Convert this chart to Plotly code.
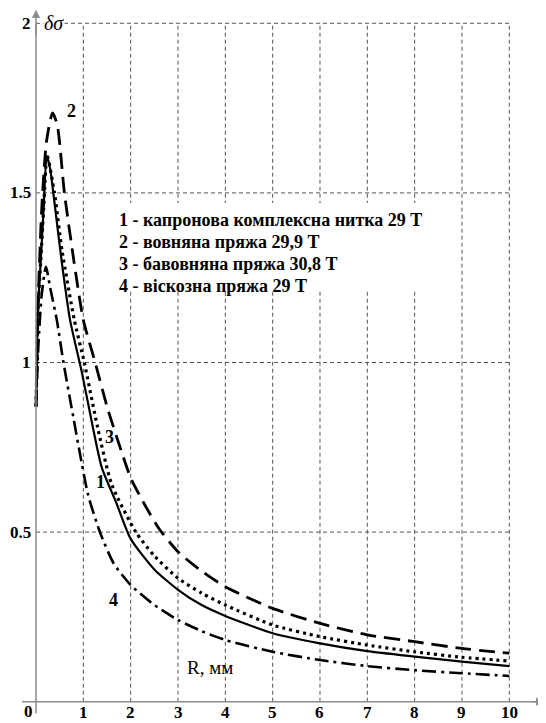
import plotly.graph_objects as go

# ---------------- data ----------------
R1 = [0.0, 0.02, 0.03, 0.1, 0.16, 0.226, 0.3, 0.4, 0.55, 0.72, 0.97, 1.2, 1.39, 1.7, 2.0, 2.5, 3, 3.5, 4, 5, 6, 7, 8, 9, 10]
D1 = [0.87, 1.0, 1.125, 1.30, 1.45, 1.61, 1.57, 1.46, 1.29, 1.125, 0.97, 0.81, 0.69, 0.585, 0.48, 0.39, 0.33, 0.285, 0.253, 0.202, 0.172, 0.149, 0.133, 0.118, 0.105]

R2 = [0.0, 0.02, 0.05, 0.12, 0.22, 0.35, 0.45, 0.6, 0.8, 1.0, 1.25, 1.5, 1.8, 2.0, 2.3, 2.6, 3, 3.5, 4, 5, 6, 7, 8, 9, 10]
D2 = [0.87, 1.0, 1.2, 1.45, 1.65, 1.736, 1.70, 1.5, 1.3, 1.125, 1.0, 0.87, 0.74, 0.66, 0.58, 0.51, 0.442, 0.385, 0.339, 0.275, 0.231, 0.197, 0.177, 0.157, 0.143]

R3 = [0.0, 0.02, 0.03, 0.1, 0.16, 0.235, 0.39, 0.55, 0.81, 1.02, 1.3, 1.6, 2.11, 2.5, 3, 3.5, 4, 5, 6, 7, 8, 9, 10]
D3 = [0.87, 1.0, 1.125, 1.30, 1.45, 1.61, 1.5, 1.33, 1.125, 1.0, 0.81, 0.64, 0.5, 0.43, 0.364, 0.32, 0.285, 0.226, 0.192, 0.167, 0.147, 0.131, 0.12]

R4 = [0.0, 0.02, 0.05, 0.12, 0.21, 0.3, 0.44, 0.58, 0.8, 0.93, 1.1, 1.35, 1.64, 2, 2.5, 3, 3.5, 4, 5, 6, 7, 8, 9, 10]
D4 = [0.87, 0.95, 1.05, 1.2, 1.282, 1.22, 1.125, 1.0, 0.83, 0.73, 0.61, 0.5, 0.408, 0.344, 0.285, 0.241, 0.208, 0.182, 0.147, 0.123, 0.105, 0.093, 0.084, 0.076]

x_ticks = [1, 2, 3, 4, 5, 6, 7, 8, 9, 10]
y_ticks = [0.5, 1, 1.5, 2]
y_tick_text = ["0.5", "1", "1.5", "2"]

legend_lines = [
    "1 - капронова комплексна нитка 29 Т",
    "2 - вовняна пряжа 29,9 Т",
    "3 - бавовняна пряжа 30,8 Т",
    "4 - віскозна пряжа 29 Т",
]
curve_labels = [("2", 0.76, 1.74), ("3", 1.56, 0.78), ("1", 1.37, 0.649), ("4", 1.63, 0.30)]

FONT = "Liberation Serif"
AX_COL = "#8c8c8c"
GRID_COL = "#555555"

fig = go.Figure()

styles = [
    (R1, D1, "solid", 2.2),
    (R2, D2, "16px,8px", 2.8),
    (R3, D3, "3px,4px", 3.2),
    (R4, D4, "14px,5px,3px,5px", 2.6),
]
for rx, dy, dash, w in styles:
    fig.add_trace(go.Scatter(
        x=rx, y=dy, mode="lines",
        line=dict(color="black", width=w, dash=dash, shape="spline", smoothing=0.6),
        showlegend=False, hoverinfo="skip"))

shapes = []
for xv in x_ticks:
    shapes.append(dict(type="line", xref="x", yref="y", x0=xv, x1=xv, y0=0, y1=2,
                       line=dict(color=GRID_COL, width=1, dash="4px,3px"), layer="below"))
for yv in y_ticks:
    shapes.append(dict(type="line", xref="x", yref="y", x0=0, x1=10, y0=yv, y1=yv,
                       line=dict(color=GRID_COL, width=1, dash="4px,3px"), layer="below"))
# white box behind legend text
shapes.append(dict(type="rect", xref="x", yref="y", x0=1.65, x1=8.3, y0=1.21, y1=1.47,
                   fillcolor="white", line=dict(width=0), layer="below"))
# axes
shapes.append(dict(type="line", xref="x", yref="y", x0=-0.3, x1=10.6, y0=0, y1=0,
                   line=dict(color=AX_COL, width=1.5)))
shapes.append(dict(type="line", xref="x", yref="y", x0=0, x1=0, y0=-0.035, y1=2.0,
                   line=dict(color=AX_COL, width=1.5)))

ann = []
# arrows
ann.append(dict(x=10.74, y=0, ax=10.45, ay=0, xref="x", yref="y", axref="x", ayref="y",
                showarrow=True, arrowhead=2, arrowsize=1.1, arrowwidth=1.5, arrowcolor=AX_COL, text=""))
ann.append(dict(x=0, y=2.04, ax=0, ay=1.96, xref="x", yref="y", axref="x", ayref="y",
                showarrow=True, arrowhead=2, arrowsize=1.1, arrowwidth=1.5, arrowcolor=AX_COL, text=""))
ann.append(dict(x=10.7, y=0.06, xref="x", yref="y", text="×", showarrow=False,
                font=dict(family=FONT, size=14, color="#777777")))
# tick labels
for xv in x_ticks:
    ann.append(dict(x=xv, y=0, xref="x", yref="y", text="<b>%d</b>" % xv, showarrow=False,
                    yanchor="middle", yshift=-11, font=dict(family=FONT, size=17, color="black")))
ann.append(dict(x=0, y=0, xref="x", yref="y", text="<b>0</b>", showarrow=False,
                xanchor="right", yanchor="middle", xshift=-1, yshift=-10,
                font=dict(family=FONT, size=17, color="black")))
for yv, t in zip(y_ticks, y_tick_text):
    ann.append(dict(x=0, y=yv, xref="x", yref="y", text="<b>" + t + "</b>", showarrow=False,
                    xanchor="right", xshift=-3, font=dict(family=FONT, size=17, color="black")))
# axis titles
ann.append(dict(x=0.14, y=2.0, xref="x", yref="y", text="<i>δσ</i>", showarrow=False,
                xanchor="left", bgcolor="white", borderpad=0,
                font=dict(family=FONT, size=20, color="black")))
ann.append(dict(x=3.68, y=0.102, xref="x", yref="y", text="R, мм", showarrow=False,
                font=dict(family=FONT, size=19, color="black")))
# legend text
leg_y = [1.42, 1.355, 1.29, 1.225]
for t, yv in zip(legend_lines, leg_y):
    ann.append(dict(x=1.72, y=yv, xref="x", yref="y", text="<b>" + t + "</b>", showarrow=False,
                    xanchor="left", font=dict(family=FONT, size=18, color="black")))
for t, xv, yv in curve_labels:
    ann.append(dict(x=xv, y=yv, xref="x", yref="y", text="<b>" + t + "</b>", showarrow=False,
                    font=dict(family=FONT, size=18, color="black")))

# the page body keeps an 8px margin, so the figure is 8px smaller in each direction
fig.update_layout(
    width=538, height=715,
    margin=dict(l=14, r=1, t=0, b=1),
    paper_bgcolor="white", plot_bgcolor="white",
    xaxis=dict(range=[-0.296, 10.754], showgrid=False, zeroline=False, showticklabels=False,
               showline=False, ticks="", fixedrange=True),
    yaxis=dict(range=[-0.0598, 2.0451], showgrid=False, zeroline=False, showticklabels=False,
               showline=False, ticks="", fixedrange=True),
    shapes=shapes, annotations=ann,
    font=dict(family=FONT),
)

fig.write_html("out.html")
